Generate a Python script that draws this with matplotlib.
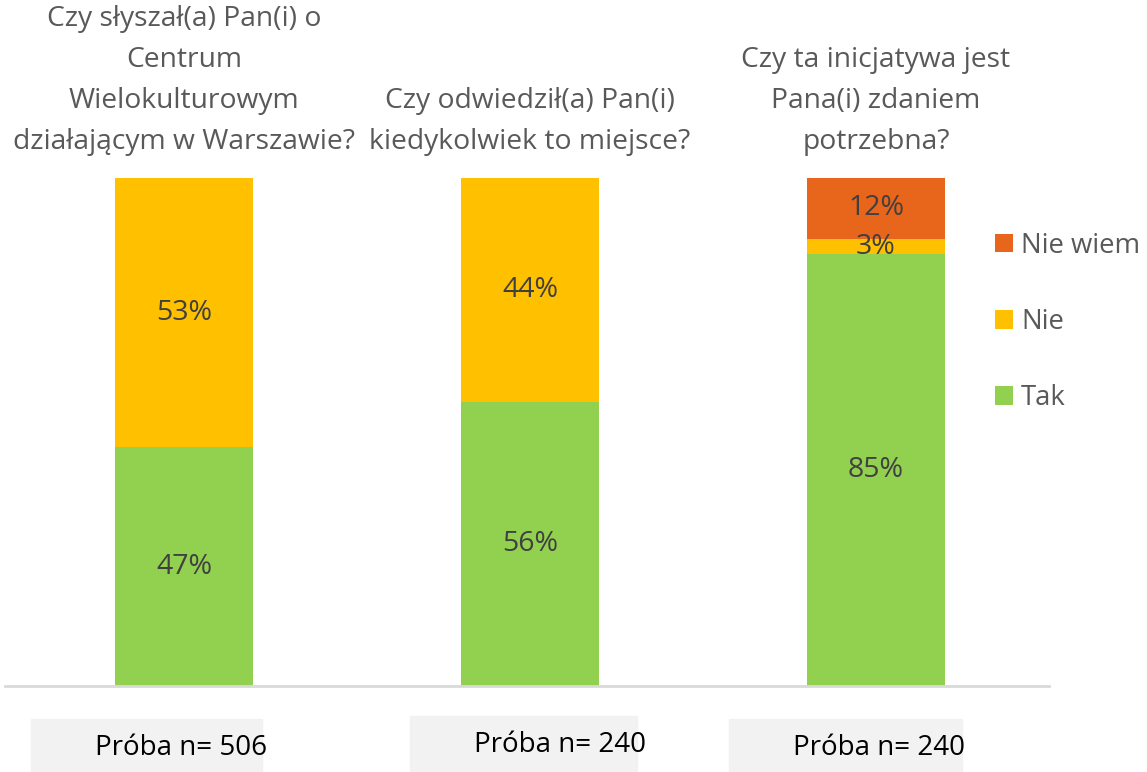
import matplotlib
matplotlib.use('Agg')
import matplotlib.pyplot as plt
from matplotlib.patches import Rectangle

plt.rcParams['font.family'] = ['Open Sans', 'DejaVu Sans']

questions = ['Czy słyszał(a) Pan(i) o\nCentrum\nWielokulturowym\ndziałającym w Warszawie?',
             'Czy odwiedził(a) Pan(i)\nkiedykolwiek to miejsce?',
             'Czy ta inicjatywa jest\nPana(i) zdaniem\npotrzebna?']
series = ['Tak', 'Nie', 'Nie wiem']
tak = [47, 56, 85]
nie = [53, 44, 3]
nie_wiem = [0, 0, 12]
samples = ['Próba n= 506', 'Próba n= 240', 'Próba n= 240']

colors = ['#92D050', '#FFC000', '#E8651C']
W, H = 1147, 772

fig = plt.figure(figsize=(W / 100, H / 100), dpi=100)
ax = fig.add_axes([11 / W, 1 - 686 / H, 1038 / W, 508 / H])

x = list(range(len(questions)))
bottom = [0] * len(x)
handles = []
for name, vals, c in zip(series, [tak, nie, nie_wiem], colors):
    b = ax.bar(x, vals, width=0.396, bottom=bottom, color=c, label=name)
    handles.append(b)
    for xi, v, b0 in zip(x, vals, bottom):
        if v > 0:
            ax.text(xi, b0 + v / 2, f'{v}%', ha='center', va='center',
                    fontsize=20.5, color='#404040')
    bottom = [p + q for p, q in zip(bottom, vals)]

ax.set_xlim(-0.5, 2.5)
ax.set_ylim(0, 100)
for s in ax.spines.values():
    s.set_visible(False)
ax.set_xticks([])
ax.set_yticks([])
ax.axhline(0, color='#D9D9D9', lw=2, xmin=-0.006, xmax=1, clip_on=False)

for xi, q in zip(x, questions):
    ax.text(xi, 1.057, q, transform=ax.get_xaxis_transform(), ha='center',
            va='baseline', fontsize=20.3, color='#595959', linespacing=1.62)

# grey sample boxes under the chart
boxes = [(31, 262, 719), (410, 637, 716), (729, 962, 719)]
text_pos = [(181, 748), (560, 745), (879, 748)]
for (x0, x1, y0), (tx, ty), s in zip(boxes, text_pos, samples):
    fig.patches.append(Rectangle((x0 / W, 0), (x1 - x0) / W, 1 - y0 / H,
                                 transform=fig.transFigure, color='#F2F2F2',
                                 zorder=0))
    fig.text(tx / W, 1 - ty / H, s, ha='center', va='center', fontsize=20,
             color='black')

leg = ax.legend(handles[::-1], series[::-1], loc='center left',
                bbox_to_anchor=(995 / W, 1 - 322 / H),
                bbox_transform=fig.transFigure, frameon=False, fontsize=19.8,
                handlelength=0.65, handleheight=0.65, handletextpad=0.3,
                labelspacing=1.75, borderpad=0, borderaxespad=0)
for t in leg.get_texts():
    t.set_color('#595959')

fig.savefig('out.png', dpi=100)
